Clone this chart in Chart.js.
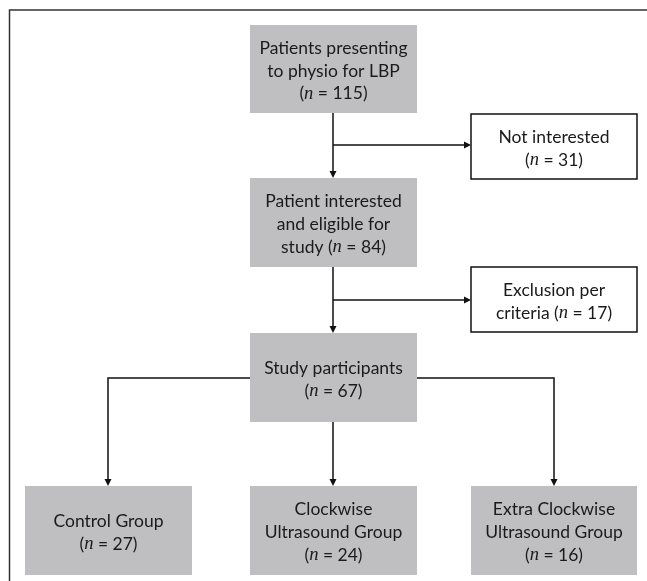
<!DOCTYPE html>
<html>
<head>
<meta charset="utf-8">
<script src="https://cdn.jsdelivr.net/npm/chart.js@4.4.1/dist/chart.umd.min.js"></script>
<style>
  html, body { margin: 0; padding: 0; background: #fff; }
  #wrap { width: 647px; height: 581px; }
</style>
</head>
<body>
<div id="wrap"><canvas id="flow" width="647" height="581"></canvas></div>
<script>
// Flowchart data: steps and participant counts
const stepText = [
    ['Patients presenting', 'to physio for LBP', '({n})'],
    ['Not interested', '({n})'],
    ['Patient interested', 'and eligible for', 'study ({n})'],
    ['Exclusion per', 'criteria ({n})'],
    ['Study participants', '({n})'],
    ['Control Group', '({n})'],
    ['Clockwise', 'Ultrasound Group', '({n})'],
    ['Extra Clockwise', 'Ultrasound Group', '({n})']
];
const stepCounts = [115, 31, 84, 17, 67, 27, 24, 16];
const stepKind = ['main', 'out', 'main', 'out', 'main', 'main', 'main', 'main'];

// Layout (chart units, y grows downwards) - [x0, y0, x1, y1]
const boxLayout = [
    [250, 25, 417, 113],
    [471, 114, 637, 179],
    [250, 178, 417, 267],
    [471, 267, 637, 332],
    [250, 333, 417, 422],
    [25, 486, 192, 575],
    [250, 486, 417, 575],
    [471, 486, 637, 575]
];
// connectors as polylines, last point gets the arrow head
const links = [
    [[333, 113], [333, 178]],
    [[333, 145], [471, 145]],
    [[333, 267], [333, 333]],
    [[333, 300], [471, 300]],
    [[333, 422], [333, 486]],
    [[250, 378], [108, 378], [108, 486]],
    [[417, 378], [554, 378], [554, 486]]
];

const FONT = 'Lato, "Open Sans", sans-serif';
const FONT_SIZE = 17.5;
const LINE_H = 22.8;
const TEXT_SHIFT = 2;

function drawRichLine(ctx, line, count, cx, cy) {
    // split into plain / italic n parts
    const parts = [];
    const idx = line.indexOf('{n}');
    if (idx < 0) {
        parts.push({ t: line, it: false });
    } else {
        parts.push({ t: line.slice(0, idx), it: false });
        parts.push({ t: 'n', it: true });
        parts.push({ t: ' = ' + count + line.slice(idx + 3), it: false });
    }
    const fonts = { false: FONT_SIZE + 'px ' + FONT, true: 'italic ' + (FONT_SIZE + 1) + 'px "Liberation Serif", "DejaVu Serif", serif' };
    let total = 0;
    parts.forEach(p => {
        ctx.font = fonts[p.it];
        p.w = ctx.measureText(p.t).width;
        total += p.w;
    });
    let x = cx - total / 2;
    parts.forEach(p => {
        ctx.font = fonts[p.it];
        ctx.fillText(p.t, x, cy);
        x += p.w;
    });
}

const flowPlugin = {
    id: 'flow',
    afterDatasetsDraw(chart) {
        const ctx = chart.ctx;
        const sx = chart.scales.x, sy = chart.scales.y;
        const px = v => sx.getPixelForValue(v);
        const py = v => sy.getPixelForValue(v);
        ctx.save();

        // outer frame (open at right and bottom)
        ctx.strokeStyle = '#333';
        ctx.lineWidth = 1.5;
        ctx.beginPath();
        ctx.moveTo(px(9.5), py(581));
        ctx.lineTo(px(9.5), py(10));
        ctx.lineTo(px(647), py(10));
        ctx.stroke();

        // boxes
        boxLayout.forEach((b, i) => {
            const x0 = px(b[0]), y0 = py(b[1]), x1 = px(b[2]), y1 = py(b[3]);
            if (stepKind[i] === 'main') {
                ctx.fillStyle = '#bfbfc1';
                ctx.fillRect(x0, y0, x1 - x0, y1 - y0);
            } else {
                ctx.fillStyle = '#fff';
                ctx.fillRect(x0, y0, x1 - x0, y1 - y0);
                ctx.strokeStyle = '#111';
                ctx.lineWidth = 1.5;
                ctx.strokeRect(x0, y0, x1 - x0, y1 - y0);
            }
            const lines = stepText[i];
            const cx = (x0 + x1) / 2, cy = (y0 + y1) / 2 + TEXT_SHIFT;
            ctx.fillStyle = '#1a1a1a';
            ctx.textBaseline = 'middle';
            ctx.textAlign = 'left';
            lines.forEach((ln, k) => {
                const ly = cy + (k - (lines.length - 1) / 2) * LINE_H;
                drawRichLine(ctx, ln, stepCounts[i], cx, ly);
            });
        });

        // connectors
        ctx.strokeStyle = '#111';
        ctx.fillStyle = '#111';
        ctx.lineWidth = 1.5;
        links.forEach(pts => {
            const n = pts.length;
            const [ex, ey] = [px(pts[n - 1][0]), py(pts[n - 1][1])];
            const [bx, by] = [px(pts[n - 2][0]), py(pts[n - 2][1])];
            const ang = Math.atan2(ey - by, ex - bx);
            const head = 7, half = 3.5;
            ctx.beginPath();
            ctx.moveTo(px(pts[0][0]), py(pts[0][1]));
            for (let k = 1; k < n - 1; k++) ctx.lineTo(px(pts[k][0]), py(pts[k][1]));
            ctx.lineTo(ex - Math.cos(ang) * head, ey - Math.sin(ang) * head);
            ctx.stroke();
            ctx.beginPath();
            ctx.moveTo(ex, ey);
            ctx.lineTo(ex - Math.cos(ang) * head - Math.sin(ang) * half, ey - Math.sin(ang) * head + Math.cos(ang) * half);
            ctx.lineTo(ex - Math.cos(ang) * head + Math.sin(ang) * half, ey - Math.sin(ang) * head - Math.cos(ang) * half);
            ctx.closePath();
            ctx.fill();
        });
        ctx.restore();
    }
};

new Chart(document.getElementById('flow'), {
    type: 'scatter',
    data: {
        datasets: [{
            label: 'Steps',
            data: boxLayout.map((b, i) => ({ x: (b[0] + b[2]) / 2, y: (b[1] + b[3]) / 2, n: stepCounts[i] })),
            pointRadius: 0
        }]
    },
    options: {
        responsive: false,
        animation: false,
        layout: { padding: 0 },
        scales: {
            x: { type: 'linear', min: 0, max: 647, display: false },
            y: { type: 'linear', min: 0, max: 581, reverse: true, display: false }
        },
        plugins: {
            legend: { display: false },
            tooltip: { enabled: false }
        }
    },
    plugins: [flowPlugin]
});
</script>
</body>
</html>
